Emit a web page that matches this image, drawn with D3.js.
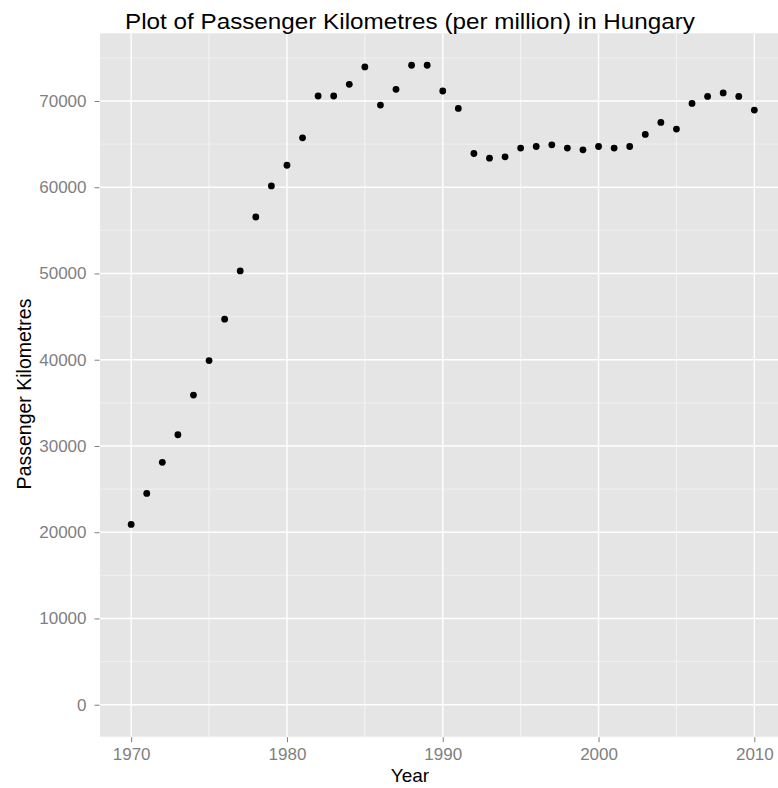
<!DOCTYPE html>
<html>
<head>
<meta charset="utf-8">
<script src="https://cdn.jsdelivr.net/npm/d3@7"></script>
<style>
    body { margin: 0; background: #fff; }
    svg { display: block; font-family: "Liberation Sans", Arial, sans-serif; }
</style>
</head>
<body>
<div id="chart"></div>
<script>
// Passenger kilometres (per million), Hungary
const years = [1970, 1971, 1972, 1973, 1974, 1975, 1976, 1977, 1978, 1979,
               1980, 1981, 1982, 1983, 1984, 1985, 1986, 1987, 1988, 1989,
               1990, 1991, 1992, 1993, 1994, 1995, 1996, 1997, 1998, 1999,
               2000, 2001, 2002, 2003, 2004, 2005, 2006, 2007, 2008, 2009, 2010];
const passengerKm = [20900, 24500, 28100, 31300, 35900, 39900, 44700, 50300, 56550, 60150,
                     62550, 65730, 70580, 70580, 71930, 73950, 69530, 71350, 74140, 74140,
                     71160, 69140, 63910, 63370, 63525, 64535, 64720, 64920, 64535, 64340,
                     64720, 64535, 64720, 66120, 67510, 66745, 69720, 70530, 70930, 70530, 68950];
const xTicks = [1970, 1980, 1990, 2000, 2010];
const xMinor = [1975, 1985, 1995, 2005];
const yTicks = [0, 10000, 20000, 30000, 40000, 50000, 60000, 70000];
const yMinor = [5000, 15000, 25000, 35000, 45000, 55000, 65000, 75000];

const width = 778, height = 788;
const panel = { left: 100, right: 785.5, top: 33.3, bottom: 736.7 };

const svg = d3.select("#chart").append("svg")
    .attr("width", width)
    .attr("height", height);

// ggplot style 5% expansion, y limits include 0
const yLo = 0, yHi = d3.max(passengerKm);
const yPad = (yHi - yLo) * 0.05;
const xLo = d3.min(years), xHi = d3.max(years);
const xPad = (xHi - xLo) * 0.05;

const x = d3.scaleLinear()
    .domain([xLo - xPad, xHi + xPad])
    .range([panel.left, panel.right]);
const y = d3.scaleLinear()
    .domain([yLo - yPad, yHi + yPad])
    .range([panel.bottom, panel.top]);

svg.append("rect")
    .attr("x", panel.left)
    .attr("y", panel.top)
    .attr("width", panel.right - panel.left)
    .attr("height", panel.bottom - panel.top)
    .attr("fill", "#e5e5e5");

const grid = svg.append("g");
grid.selectAll(".hminor").data(yMinor).enter().append("line")
    .attr("x1", panel.left).attr("x2", panel.right)
    .attr("y1", d => y(d)).attr("y2", d => y(d))
    .attr("stroke", "#f2f2f2").attr("stroke-width", 0.8);
grid.selectAll(".vminor").data(xMinor).enter().append("line")
    .attr("y1", panel.top).attr("y2", panel.bottom)
    .attr("x1", d => x(d)).attr("x2", d => x(d))
    .attr("stroke", "#f4f4f4").attr("stroke-width", 1);
grid.selectAll(".hmajor").data(yTicks).enter().append("line")
    .attr("x1", panel.left).attr("x2", panel.right)
    .attr("y1", d => y(d)).attr("y2", d => y(d))
    .attr("stroke", "#ffffff").attr("stroke-width", 1.4);
grid.selectAll(".vmajor").data(xTicks).enter().append("line")
    .attr("y1", panel.top).attr("y2", panel.bottom)
    .attr("x1", d => x(d)).attr("x2", d => x(d))
    .attr("stroke", "#ffffff").attr("stroke-width", 1.4);

// axes
const yAxis = svg.append("g")
    .attr("transform", `translate(${panel.left - 0.5},0)`)
    .call(d3.axisLeft(y).tickValues(yTicks).tickSize(5).tickPadding(8).tickFormat(d3.format("d")));
const xAxis = svg.append("g")
    .attr("transform", `translate(0,${panel.bottom + 0.5})`)
    .call(d3.axisBottom(x).tickValues(xTicks).tickSize(5).tickPadding(6).tickFormat(d3.format("d")));

[yAxis, xAxis].forEach(a => {
    a.select(".domain").remove();
    a.selectAll(".tick line").attr("stroke", "#7f7f7f").attr("stroke-width", 1);
    a.selectAll(".tick text")
        .attr("fill", "#7f7f7f")
        .attr("font-size", 17)
        .attr("font-family", "Liberation Sans, Arial, sans-serif");
});

// points
svg.append("g").selectAll("circle")
    .data(years)
    .enter().append("circle")
    .attr("cx", (d, i) => x(d))
    .attr("cy", (d, i) => y(passengerKm[i]))
    .attr("r", 3.4)
    .attr("fill", "#000");

// titles
svg.append("text")
    .attr("x", 125)
    .attr("y", 29)
    .attr("font-size", 22)
    .attr("textLength", 570)
    .attr("lengthAdjust", "spacingAndGlyphs")
    .attr("fill", "#000")
    .text("Plot of Passenger Kilometres (per million) in Hungary");

svg.append("text")
    .attr("x", 410)
    .attr("y", 782)
    .attr("text-anchor", "middle")
    .attr("font-size", 19)
    .attr("fill", "#000")
    .text("Year");

svg.append("text")
    .attr("transform", "translate(31,394) rotate(-90)")
    .attr("text-anchor", "middle")
    .attr("font-size", 19.5)
    .attr("fill", "#000")
    .text("Passenger Kilometres");
</script>
</body>
</html>
